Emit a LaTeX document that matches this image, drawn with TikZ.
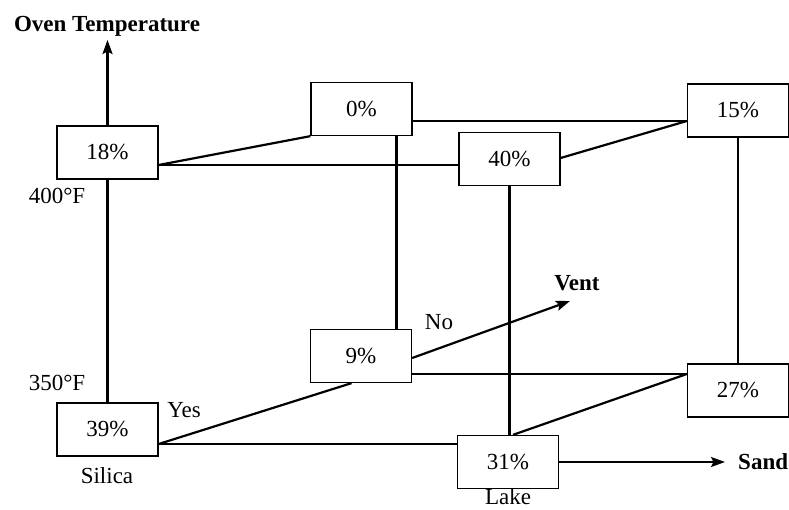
\documentclass[tikz,border=0pt]{standalone}
\usepackage{fontspec}
\setmainfont{Liberation Serif}
\usetikzlibrary{arrows.meta}
\begin{document}
\begin{tikzpicture}[x=1pt,y=-1pt,
  box/.style={draw,line width=1.3pt,minimum width=101pt,minimum height=53pt,inner sep=0pt,font=\fontsize{23}{27}\selectfont},
  lbl/.style={inner sep=0pt,font=\fontsize{23}{27}\selectfont},
  blbl/.style={inner sep=0pt,font=\fontsize{23}{27}\selectfont\bfseries},
  conn/.style={line width=2.2pt},
  arr/.style={line width=2.2pt,-{Stealth[length=14pt,width=10pt,inset=2.5pt]}}]
\useasboundingbox (0,0) rectangle (789,510);
% boxes
\node[box] (n18) at (107.5,152.5) {18\%};
\node[box] (n0) at (361.5,109) {0\%};
\node[box] (n40) at (509.5,159) {40\%};
\node[box] (n15) at (738,110.5) {15\%};
\node[box] (n39) at (107.5,429.5) {39\%};
\node[box] (n9) at (361,356) {9\%};
\node[box] (n27) at (738,390.5) {27\%};
\node[box] (n31) at (508,462) {31\%};
% labels
\node[blbl] (oven) at (107,26) {Oven Temperature};
\node[lbl] (t400) at (57,196) {400°F};
\node[lbl] (t350) at (57,383) {350°F};
\node[lbl] (yes) at (184,410) {Yes};
\node[lbl] (silica) at (107,476) {Silica};
\node[lbl] (no) at (439,322) {No};
\node[blbl] (vent) at (577,283) {Vent};
\node[lbl] (lake) at (508,497) {Lake};
\node[blbl,anchor=west] (sand) at (738,462) {Sand};
% anchor coordinates
\coordinate (p18) at ([yshift=-12.5pt]n18.east);
\coordinate (p0) at ([yshift=-12pt]n0.east);
\coordinate (c15) at (p0 -| n15.west);
\coordinate (p40) at ([yshift=1pt]n40.east);
\coordinate (p0s) at ([xshift=35pt]n0.south);
\coordinate (p39) at ([yshift=-14.5pt]n39.east);
\coordinate (p9s) at ([xshift=-9.5pt]n9.south);
\coordinate (p9b) at ([yshift=-18pt]n9.east);
\coordinate (c27) at (p9b -| n27.west);
\coordinate (p31) at ([xshift=5pt]n31.north);
\coordinate (p9v) at ([yshift=-2pt]n9.east);
\coordinate (tipV) at (570,301);
\coordinate (tipS) at (725,462);
\coordinate (tipO) at (107.5,40);
% connectors
\draw[conn] (p18) -- (n0.south west);
\draw[conn] (p18) -- (p18 -| n40.west);
\draw[conn] (p0) -- (c15);
\draw[conn] (p40) -- (c15);
\draw[conn] (p0s) -- (p0s |- n9.north);
\draw[conn] (n40.south) -- (n40.south |- n31.north);
\draw[conn] (n15.south) -- (n27.north);
\draw[conn] (n18.south) -- (n39.north);
\draw[conn] (p39) -- (p39 -| n31.west);
\draw[conn] (p39) -- (p9s);
\draw[conn] (p9b) -- (c27);
\draw[conn] (p31) -- (c27);
\draw[arr] (p9v) -- (tipV);
\draw[arr] (n31.east) -- (tipS);
\draw[arr] (n18.north) -- (tipO);
\end{tikzpicture}
\end{document}
